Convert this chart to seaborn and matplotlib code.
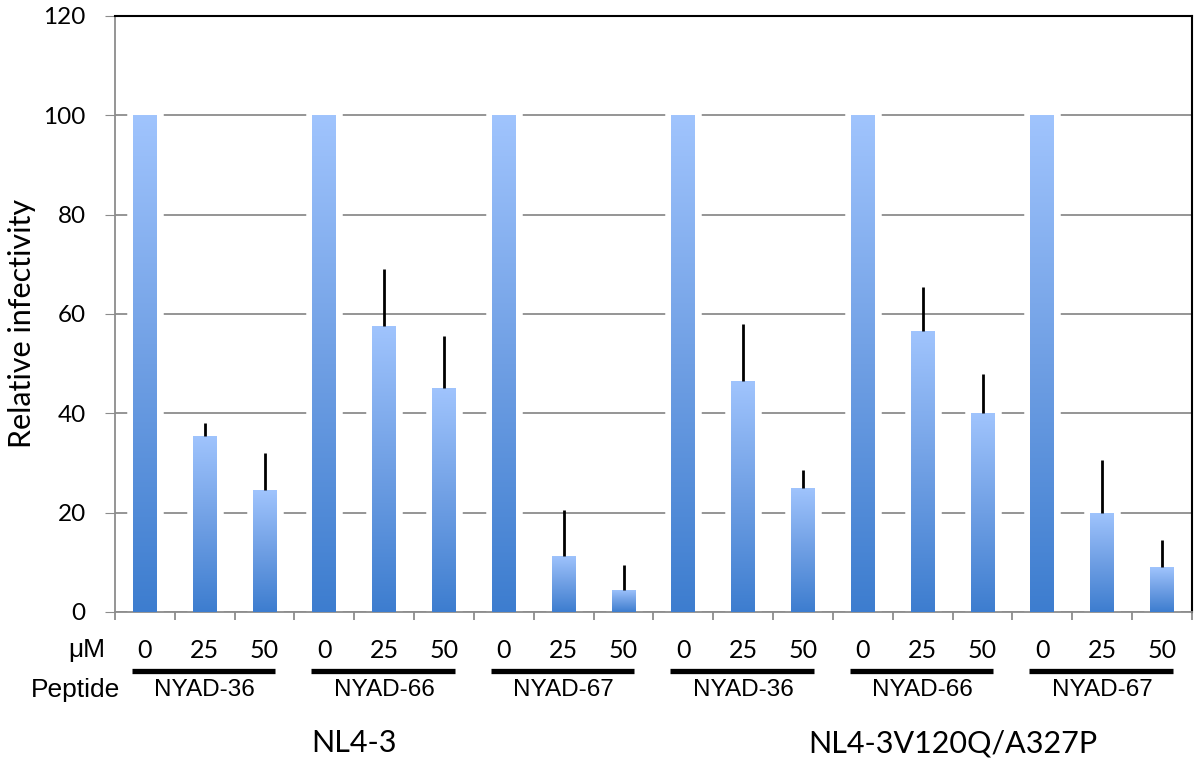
import numpy as np
import pandas as pd
import matplotlib
matplotlib.use("Agg")
import matplotlib.pyplot as plt
from matplotlib.colors import LinearSegmentedColormap
import seaborn as sns

# ── Data ──────────────────────────────────────────────────────────────────────
strains     = ["NL4-3", "NL4-3V120Q/A327P"]
peptides    = ["NYAD-36", "NYAD-66", "NYAD-67"]
doses       = ["0", "25", "50"]
infectivity = [100, 35.5, 24.5, 100, 57.5, 45.0, 100, 11.3, 4.5,
               100, 46.5, 25.0, 100, 56.5, 40.0, 100, 20.0, 9.0]
err_upper   = [0, 2.5, 7.5, 0, 11.5, 10.5, 0, 9.2, 5.0,
               0, 11.5, 3.5, 0, 9.0, 8.0, 0, 10.5, 5.5]
y_ticks     = [0, 20, 40, 60, 80, 100, 120]

rows = []
for s in strains:
    for p in peptides:
        for d in doses:
            rows.append(dict(strain=s, peptide=p, dose=d, key=f"{s}|{p}|{d}"))
df = pd.DataFrame(rows)
df["value"] = infectivity
df["err"]   = err_upper

# ── Style ─────────────────────────────────────────────────────────────────────
sns.set_style("white")
plt.rcParams["font.family"] = ["Lato", "DejaVu Sans"]
plt.rcParams["text.color"] = "black"
CALIBRI_ISH = ["Lato", "DejaVu Sans"]
ARIAL_ISH   = ["Liberation Sans", "DejaVu Sans"]
GRID_GRAY   = "#8c8c8c"

fig = plt.figure(figsize=(12, 7.69), dpi=100)
ax = fig.add_axes([0.0958, 0.2042, 0.8975, 0.775])

sns.barplot(data=df, x="key", y="value", order=list(df["key"]),
            color="#6fa0e6", width=0.4, errorbar=None,
            edgecolor="white", linewidth=9, ax=ax, zorder=2)

# gradient fill: light at top, darker at bottom, clipped to each bar
cmap = LinearSegmentedColormap.from_list("bar", ["#3d7dcf", "#6f9fe4", "#a0c4fd"])
grad = np.linspace(0, 1, 256).reshape(-1, 1)
for patch in ax.patches:
    x0, y0 = patch.get_x(), patch.get_y()
    w, h = patch.get_width(), patch.get_height()
    im = ax.imshow(grad, cmap=cmap, origin="lower", aspect="auto",
                   extent=[x0, x0 + w, y0, y0 + h], zorder=3)
    im.set_clip_path(patch)

xs = np.arange(len(df))
ax.errorbar(xs, df["value"], yerr=[np.zeros(len(df)), df["err"]],
            fmt="none", ecolor="black", elinewidth=2, capsize=0, zorder=4)

ax.set_xlim(-0.5, len(df) - 0.5)
ax.set_ylim(0, 120)
ax.set_yticks(y_ticks)
ax.set_yticklabels([str(t) for t in y_ticks], fontsize=17.5, family=CALIBRI_ISH)
ax.yaxis.grid(True, color=GRID_GRAY, linewidth=1.3)
ax.set_axisbelow(True)
ax.tick_params(axis="y", direction="out", length=7, color=GRID_GRAY,
               labelcolor="black", pad=14, left=True)

# category boundary ticks on the x axis
ax.set_xticks(np.arange(-0.5, len(df), 1.0))
ax.set_xticklabels([])
ax.tick_params(axis="x", direction="out", length=6, width=1.3, color=GRID_GRAY, bottom=True)
ax.set_xlabel("")
ax.set_ylabel("")
fig.text(0.018, 0.58, "Relative infectivity", rotation=90, ha="center", va="center",
         fontsize=22, family=CALIBRI_ISH, color="black")

for side in ["left", "bottom"]:
    ax.spines[side].set_color(GRID_GRAY)
    ax.spines[side].set_linewidth(1.3)
for side in ["top", "right"]:
    ax.spines[side].set_color("black")
    ax.spines[side].set_linewidth(1.5)

# ── Annotation rows below the axis ────────────────────────────────────────────
tr = ax.get_xaxis_transform()
for i, d in enumerate(df["dose"]):
    ax.text(i, -0.064, d, transform=tr, ha="center", va="center",
            fontsize=18, family=CALIBRI_ISH, clip_on=False)
ax.text(-0.66, -0.064, "\u03bcM", transform=tr, ha="right", va="center",
        fontsize=19, family=ARIAL_ISH, clip_on=False)
ax.text(-0.42, -0.131, "Peptide", transform=tr, ha="right", va="center",
        fontsize=19, family=ARIAL_ISH, clip_on=False)

n_groups = len(strains) * len(peptides)
for g in range(n_groups):
    start = g * 3
    ax.plot([start - 0.22, start + 2.18], [-0.099, -0.099], transform=tr,
            color="black", linewidth=3.8, solid_capstyle="butt", clip_on=False)
    ax.text(start + 1, -0.131, peptides[g % 3], transform=tr, ha="center",
            va="center", fontsize=17.5, family=ARIAL_ISH, clip_on=False)

for s, xc in zip(strains, [3.5, 13.5]):
    ax.text(xc, -0.22, s, transform=tr, ha="center", va="center",
            fontsize=22, family=CALIBRI_ISH, clip_on=False)

fig.savefig("out.png", dpi=100)
